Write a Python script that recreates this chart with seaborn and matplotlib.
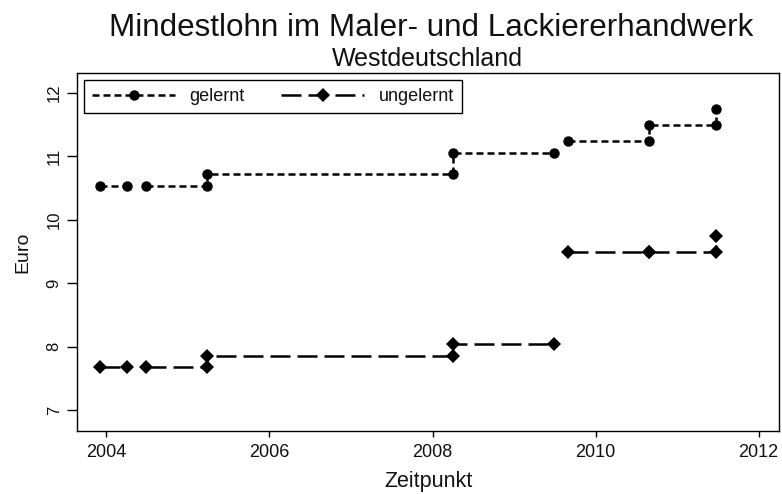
# Mindestlohn im Maler- und Lackiererhandwerk (Westdeutschland)

import seaborn as sns
import matplotlib.pyplot as plt
import pandas as pd

# time points (decimal years) of each period start / end
zeitpunkt = [2003.92, 2004.25, 2004.49, 2005.24, 2005.24, 2008.25, 2008.25,
             2009.49, 2009.66, 2010.65, 2010.65, 2011.48, 2011.48]
# connected pieces of the step line (a new id means a gap)
abschnitt = [1, 1, 2, 2, 2, 2, 2, 2, 3, 3, 3, 3, 3]

gelernt = [10.53, 10.53, 10.53, 10.53, 10.73, 10.73, 11.05,
           11.05, 11.25, 11.25, 11.50, 11.50, 11.75]
ungelernt = [7.68, 7.68, 7.68, 7.68, 7.85, 7.85, 8.05,
             8.05, 9.50, 9.50, 9.50, 9.50, 9.75]

x_ticks = [2004, 2006, 2008, 2010, 2012]
y_ticks = [7, 8, 9, 10, 11, 12]

df = pd.DataFrame({
    "Zeitpunkt": zeitpunkt,
    "abschnitt": abschnitt,
    "gelernt": gelernt,
    "ungelernt": ungelernt,
})

sns.set_theme(style="ticks")
plt.rcParams['font.family'] = ['Liberation Sans', 'DejaVu Sans']
plt.rcParams['text.color'] = '#111111'
plt.rcParams['axes.labelcolor'] = '#111111'

fig = plt.figure(figsize=(7.82, 4.94), dpi=100)
ax = fig.add_axes([0.0985, 0.128, 0.8977, 0.7242])

sns.lineplot(data=df, x="Zeitpunkt", y="gelernt", units="abschnitt",
             estimator=None, sort=False, color="black", linewidth=1.8,
             linestyle=(0, (2.8, 1.6)), marker="o", markersize=7.5,
             markeredgewidth=0, ax=ax)
sns.lineplot(data=df, x="Zeitpunkt", y="ungelernt", units="abschnitt",
             estimator=None, sort=False, color="black", linewidth=1.8,
             linestyle=(0, (8, 2.8)), marker="D", markersize=7,
             markeredgewidth=0, ax=ax)

ax.set_xlim(2003.64, 2012.25)
ax.set_ylim(6.674, 12.315)
ax.set_xticks(x_ticks)
ax.set_yticks(y_ticks)
ax.tick_params(axis="x", length=4.5, width=1, pad=5, labelsize=13,
               colors="black", labelcolor="#111111")
ax.tick_params(axis="y", length=7, width=1, pad=4, labelsize=12,
               colors="black", labelcolor="#111111", labelrotation=90)
for lab in ax.get_yticklabels():
    lab.set_verticalalignment("center")
for s in ax.spines.values():
    s.set_visible(True)
    s.set_linewidth(1)
    s.set_color("black")

ax.set_xlabel("Zeitpunkt", fontsize=15.5, labelpad=7)
ax.set_ylabel("Euro", fontsize=14, labelpad=11)

fig.text(0.551, 1 - 36.5 / 494, "Mindestlohn im Maler- und Lackiererhandwerk",
         ha="center", va="baseline", fontsize=22.6)
fig.text(0.547, 1 - 65.5 / 494, "Westdeutschland",
         ha="center", va="baseline", fontsize=18)

# legend with one entry per series
handles = [ax.lines[0], ax.lines[-1]]
labels = ["gelernt", "ungelernt"]
leg = ax.legend(handles, labels, loc="upper left", bbox_to_anchor=(0.01, 0.98),
                ncol=2, fontsize=13, handlelength=4.6, handletextpad=0.8,
                columnspacing=2.0, numpoints=1, fancybox=False,
                edgecolor="black", framealpha=1, borderpad=0.45,
                borderaxespad=0)
leg.get_frame().set_linewidth(1)

fig.savefig("out.png", dpi=100)
